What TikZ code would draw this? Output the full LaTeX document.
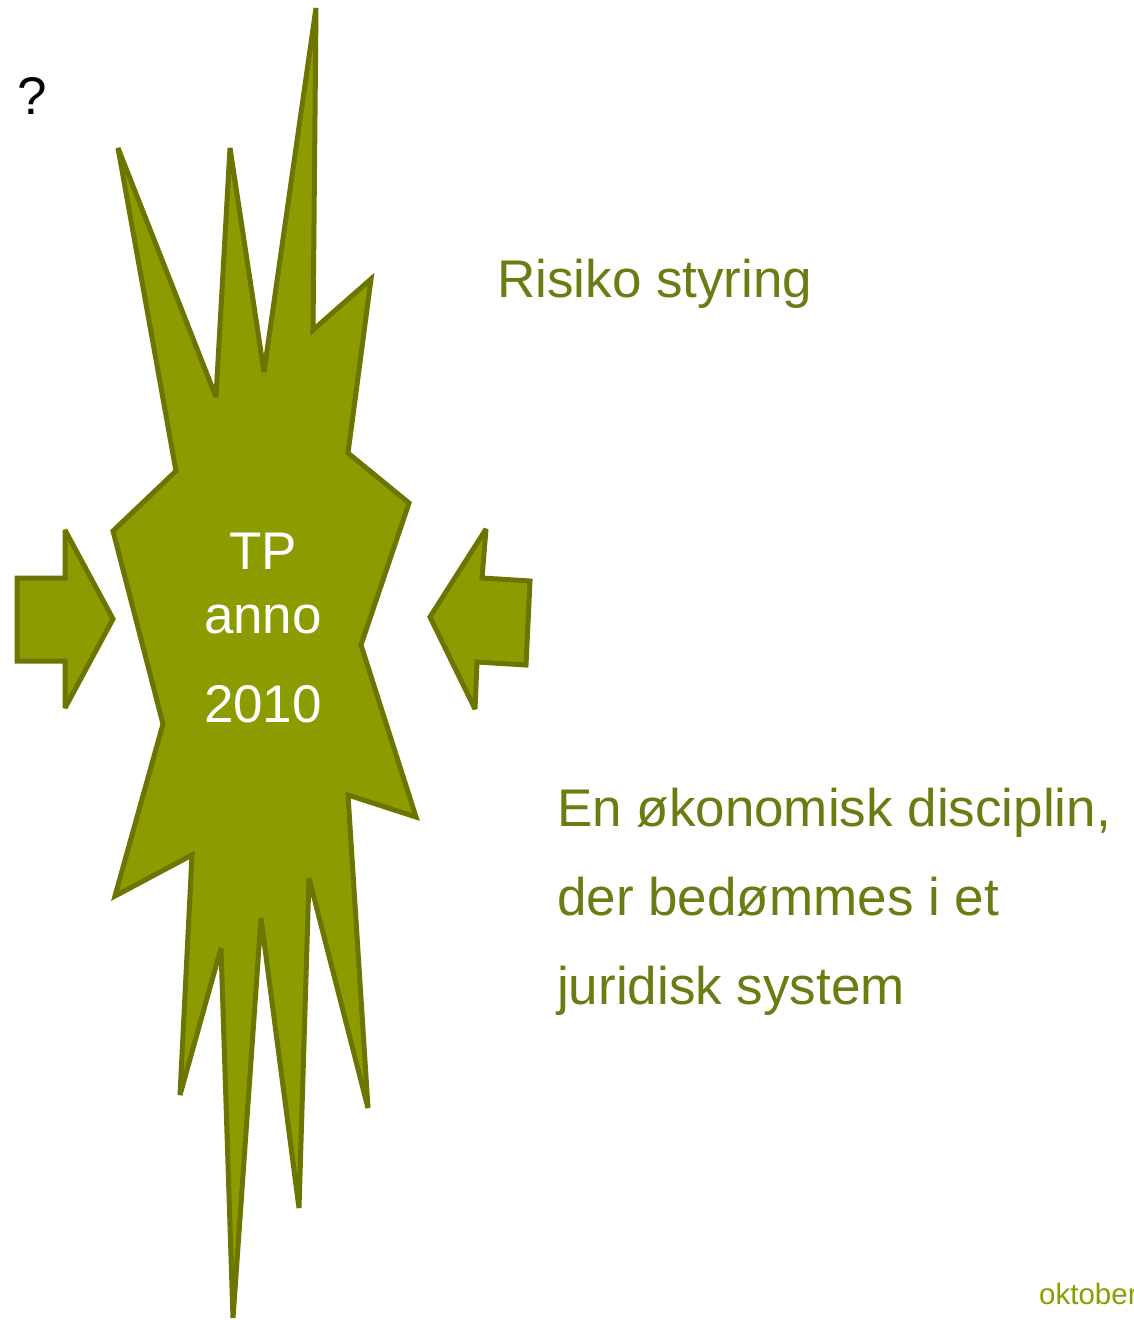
\documentclass[tikz,border=0pt]{standalone}
\usepackage{fontspec}
\setmainfont{Liberation Sans}
\definecolor{olivefill}{HTML}{8C9C00}
\definecolor{olivedraw}{HTML}{6B7500}
\definecolor{olivetext}{HTML}{6E7A12}
\begin{document}
\begin{tikzpicture}[x=1pt,y=-1pt,
  shapestyle/.style={fill=olivefill, draw=olivedraw, line width=5pt, line join=miter, miter limit=4},
  txt/.style={inner sep=0pt, anchor=base west, font=\fontsize{53}{53}\selectfont},
  ctxt/.style={inner sep=0pt, anchor=base, text=white, font=\fontsize{53}{53}\selectfont}]
\useasboundingbox (0,0) rectangle (1134,1320);
% explosion shape
\draw[shapestyle] (118,148) -- (216,397) -- (230,148) -- (264,372) -- (316,8) -- (313,330)
  -- (371,279) -- (348,453) -- (409,503) -- (361,645) -- (416,817) -- (348,795)
  -- (368,1108) -- (309,878) -- (299,1208) -- (261,918) -- (233,1318) -- (221,948)
  -- (180,1095) -- (192,855) -- (115,896) -- (163,724) -- (113,531) -- (176,471) -- cycle;
% left arrow
\draw[shapestyle] (17,578) -- (65,578) -- (65,530) -- (113,619) -- (65,708) -- (65,661) -- (17,661) -- cycle;
% right arrow
\draw[shapestyle] (430,617) -- (486,529) -- (482,578) -- (530,581) -- (526,665) -- (477,662) -- (475,709) -- cycle;
% texts
\node[ctxt] (tp) at (263,569) {TP};
\node[ctxt] (anno) at (263,633) {anno};
\node[ctxt] (year) at (263,722) {2010};
\node[txt, text=black] (q) at (17,114) {?};
\node[txt, text=olivetext] (risk) at (497,297) {Risiko styring};
\node[txt, text=olivetext] (l1) at (557,826) {En økonomisk disciplin,};
\node[txt, text=olivetext] (l2) at (557,915) {der bedømmes i et};
\node[txt, text=olivetext] (l3) at (557,1004) {juridisk system};
\node[inner sep=0pt, anchor=base west, text=olivefill, font=\fontsize{29.5}{29.5}\selectfont] (okt) at (1039,1304) {oktober};
\end{tikzpicture}
\end{document}
